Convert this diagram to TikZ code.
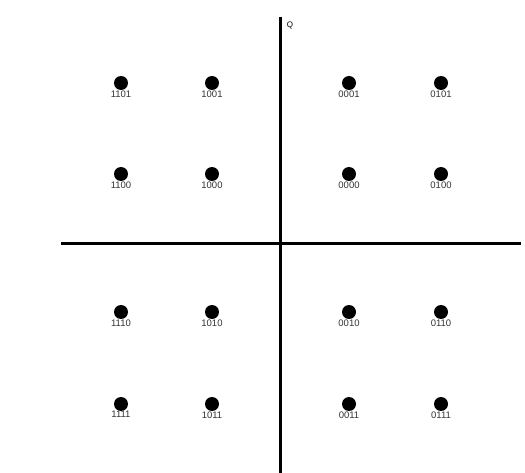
\documentclass[tikz,border=0pt]{standalone}
\usepackage{fontspec}
\setmainfont{Liberation Sans}
\usepackage{tikz}
\usetikzlibrary{positioning}
\tikzset{
    symbol/.style={circle, fill=black, inner sep=0pt, minimum size=14pt},
    bits/.style={font=\fontsize{9.5}{10}\selectfont, inner sep=0pt, label distance=0pt, text=black!80},
    axis/.style={line width=3pt, color=black}
}
\begin{document}
\begin{tikzpicture}[x=1pt, y=-1pt]
    \useasboundingbox (0,0) rectangle (525,473);
    % axes
    \coordinate (qtop) at (280,17);
    \coordinate (qbot) at (280,473);
    \coordinate (ileft) at (61,244);
    \coordinate (iright) at (521,244);
    \draw [axis] (qtop) -- (qbot);
    \draw [axis] (ileft) -- (iright);
    \node [font=\fontsize{8}{9}\selectfont, inner sep=0pt] (qlabel) at (290,25) {Q};

    % upper left quadrant
    \node [symbol, label={[bits]below:1101}] (s1101) at (121,83) {};
    \node [symbol, label={[bits]below:1001}] (s1001) at (212,83) {};
    \node [symbol, label={[bits]below:1100}] (s1100) at (121,174) {};
    \node [symbol, label={[bits]below:1000}] (s1000) at (212,174) {};
    % upper right quadrant
    \node [symbol, label={[bits]below:0001}] (s0001) at (349,83) {};
    \node [symbol, label={[bits]below:0101}] (s0101) at (441,83) {};
    \node [symbol, label={[bits]below:0000}] (s0000) at (349,174) {};
    \node [symbol, label={[bits]below:0100}] (s0100) at (441,174) {};
    % lower left quadrant
    \node [symbol, label={[bits]below:1110}] (s1110) at (121,312) {};
    \node [symbol, label={[bits]below:1010}] (s1010) at (212,312) {};
    \node [symbol, label={[bits]below:1111}] (s1111) at (121,404) {};
    \node [symbol, label={[bits]below:1011}] (s1011) at (212,404) {};
    % lower right quadrant
    \node [symbol, label={[bits]below:0010}] (s0010) at (349,312) {};
    \node [symbol, label={[bits]below:0110}] (s0110) at (441,312) {};
    \node [symbol, label={[bits]below:0011}] (s0011) at (349,404) {};
    \node [symbol, label={[bits]below:0111}] (s0111) at (441,404) {};
\end{tikzpicture}
\end{document}
